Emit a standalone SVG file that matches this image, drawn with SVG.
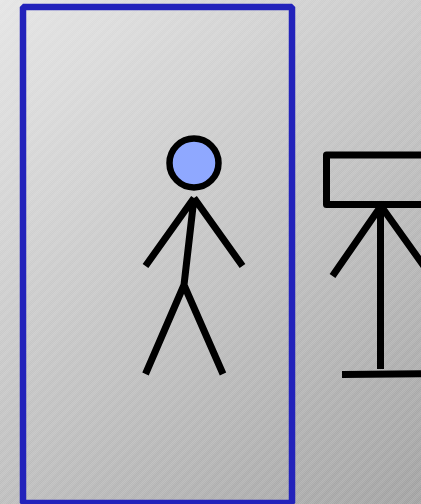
<svg xmlns="http://www.w3.org/2000/svg" width="421" height="504" viewBox="0 0 421 504">
<defs>
<linearGradient id="bg" gradientUnits="userSpaceOnUse" x1="0" y1="0" x2="421" y2="504">
<stop offset="0" stop-color="#e4e4e4"/>
<stop offset="1" stop-color="#a0a0a0"/>
</linearGradient>
<pattern id="checker" patternUnits="userSpaceOnUse" width="2" height="2">
<rect width="1" height="1" fill="#ffffff" fill-opacity="0.1" shape-rendering="crispEdges"/>
<rect x="1" y="1" width="1" height="1" fill="#ffffff" fill-opacity="0.1" shape-rendering="crispEdges"/>
</pattern>
<pattern id="stripes" patternUnits="userSpaceOnUse" width="7" height="7" patternTransform="rotate(-45)">
<rect width="7" height="3.500" fill="#ffffff" fill-opacity="0.07"/>
</pattern>
<style>
.ink{fill:none;stroke:#000;stroke-width:7}
.frame{fill:none;stroke:#2222bb;stroke-width:6.500;stroke-linejoin:bevel}
</style>
</defs>
<rect width="421" height="504" fill="url(#bg)"/>
<rect width="421" height="504" fill="url(#checker)"/>
<rect width="421" height="504" fill="url(#stripes)"/>
<rect class="frame" x="23" y="7" width="269" height="496"/>
<g id="actor">
<circle cx="194" cy="163" r="24.500" fill="#8fa8ff" stroke="#000" stroke-width="6.500"/>
<path class="ink" d="M194 198L145.500 266M194 198L242.500 266M194 198L184 285M184 285L145.500 374M184 285L223 374"/>
</g>
<g id="device">
<rect class="ink" x="326.500" y="155" width="120" height="49.500" stroke-linejoin="round"/>
<path class="ink" d="M381 206L332.500 276M381 206L431 276M380.500 206V369M342 374.500L421 373.700"/>
</g>
<g id="connectors"/>
</svg>
